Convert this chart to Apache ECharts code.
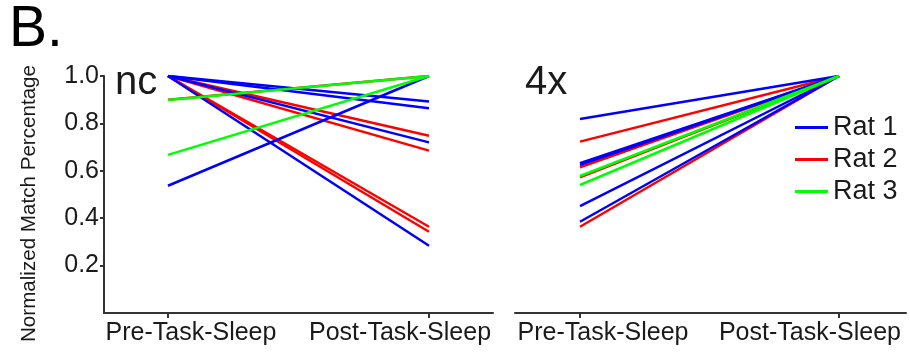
<!DOCTYPE html>
<html>
<head>
<meta charset="utf-8">
<script src="https://cdn.jsdelivr.net/npm/echarts@6/dist/echarts.min.js"></script>
<style>
  html, body { margin: 0; padding: 0; background: #fff; }
  #chart { width: 910px; height: 358px; }
</style>
</head>
<body>
<div id="chart"></div>
<script>
// Session categories on the x axis
const categories = ['Pre-Task-Sleep', 'Post-Task-Sleep'];
const ratNames = ['Rat 1', 'Rat 2', 'Rat 3'];
const ratColors = ['#0000ff', '#ff0000', '#00ff00'];
const yTicks = [0.2, 0.4, 0.6, 0.8, 1.0];

// "nc" panel: one line per session (rat index, pre value, post value)
const ncRat  = [1, 1, 1, 1, 1,
                0, 0, 0, 0, 0,
                2, 2];
const ncPre  = [1.0, 1.0, 1.0, 1.0, 0.90,
                1.0, 1.0, 1.0, 1.0, 0.537,
                0.899, 0.667];
const ncPost = [0.748, 0.685, 0.364, 0.343, 1.0,
                0.892, 0.864, 0.720, 0.284, 1.0,
                1.0, 1.0];

// "4x" panel
const x4Rat  = [1, 1, 1, 1,
                0, 0, 0, 0, 0,
                2, 2];
const x4Pre  = [0.723, 0.615, 0.572, 0.364,
                0.819, 0.632, 0.625, 0.451, 0.385,
                0.578, 0.540];
const x4Post = [1.0, 1.0, 1.0, 1.0,
                1.0, 1.0, 1.0, 1.0, 1.0,
                1.0, 1.0];

const FONT = 'Liberation Sans, Arial, Helvetica, sans-serif';
const AXIS_COLOR = '#333';
const TEXT_COLOR = '#1a1a1a';

function buildSeries(rats, pre, post, gridIdx) {
  return rats.map((r, i) => ({
    type: 'line',
    name: ratNames[r],
    xAxisIndex: gridIdx,
    yAxisIndex: gridIdx,
    data: [[0, pre[i]], [1, post[i]]],
    symbol: 'none',
    silent: true,
    lineStyle: { color: ratColors[r], width: 2.5 },
    itemStyle: { color: ratColors[r] },
    z: 2
  }));
}

function xAxisFor(gridIdx, min, max) {
  return {
    type: 'value',
    gridIndex: gridIdx,
    min: min,
    max: max,
    splitLine: { show: false },
    axisLine: { show: true, lineStyle: { color: AXIS_COLOR, width: 2 } },
    axisTick: {
      show: true, customValues: [0, 1], length: 5, inside: false,
      lineStyle: { color: AXIS_COLOR, width: 2 }
    },
    axisLabel: {
      customValues: [0, 1],
      margin: 8,
      color: TEXT_COLOR,
      fontFamily: FONT,
      fontSize: 25,
      formatter: v => (v === 0 ? '{a|' + categories[0] + '}' : '{b|' + categories[1] + '}'),
      rich: {
        a: { fontFamily: FONT, fontSize: 25, color: TEXT_COLOR, padding: [0, 0, 0, 46] },
        b: { fontFamily: FONT, fontSize: 25, color: TEXT_COLOR, padding: [0, 58, 0, 0] }
      }
    }
  };
}

function yAxisFor(gridIdx, showAxis) {
  return {
    type: 'value',
    gridIndex: gridIdx,
    min: 0,
    max: 1,
    splitLine: { show: false },
    name: showAxis ? 'Normalized Match Percentage' : '',
    nameLocation: 'middle',
    nameGap: 64,
    nameTextStyle: { fontFamily: FONT, fontSize: 20.6, color: TEXT_COLOR, padding: [0, 18, 0, 0] },
    axisLine: { show: showAxis, onZero: false, lineStyle: { color: AXIS_COLOR, width: 2 } },
    axisTick: {
      show: showAxis, customValues: yTicks, length: 4,
      lineStyle: { color: AXIS_COLOR, width: 2 }
    },
    axisLabel: {
      show: showAxis,
      customValues: yTicks,
      margin: 5,
      color: TEXT_COLOR,
      fontFamily: FONT,
      fontSize: 25,
      formatter: v => v.toFixed(1)
    }
  };
}

const chart = echarts.init(document.getElementById('chart'), null, { renderer: 'canvas' });

chart.setOption({
  animation: false,
  backgroundColor: '#fff',
  title: [
    { text: 'B.', left: 4, top: -3, padding: 5, textStyle: { fontFamily: FONT, fontSize: 57, fontWeight: 'normal', color: '#000' } },
    { text: 'nc', left: 110, top: 58, textStyle: { fontFamily: FONT, fontSize: 40, fontWeight: 'normal', color: TEXT_COLOR } },
    { text: '4x', left: 520, top: 58, textStyle: { fontFamily: FONT, fontSize: 40, fontWeight: 'normal', color: TEXT_COLOR } }
  ],
  legend: {
    orient: 'vertical',
    left: 795,
    top: 114,
    padding: 0,
    itemWidth: 33,
    itemHeight: 3,
    itemGap: 5,
    icon: 'rect',
    data: ratNames,
    selectedMode: false,
    textStyle: { fontFamily: FONT, fontSize: 27, color: TEXT_COLOR }
  },
  grid: [
    { left: 104, top: 76, width: 389, height: 237 },
    { left: 515, top: 76, width: 391, height: 237 }
  ],
  xAxis: [
    xAxisFor(0, -0.245, 1.245),
    xAxisFor(1, -0.251, 1.259)
  ],
  yAxis: [
    yAxisFor(0, true),
    yAxisFor(1, false)
  ],
  series: [].concat(
    buildSeries(ncRat, ncPre, ncPost, 0),
    buildSeries(x4Rat, x4Pre, x4Post, 1)
  )
});
</script>
</body>
</html>
